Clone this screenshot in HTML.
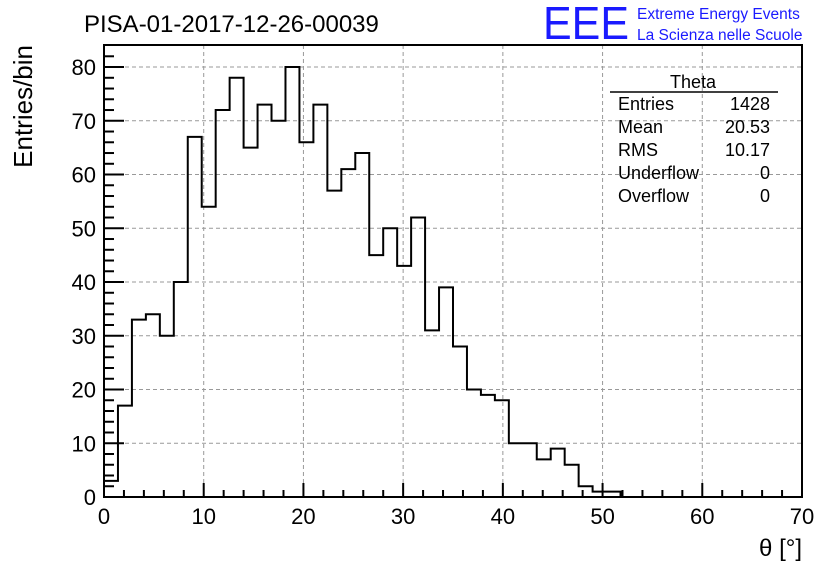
<!DOCTYPE html>
<html><head><meta charset="utf-8"><style>
body{margin:0;background:#fff;}
svg{display:block;font-family:"Liberation Sans",sans-serif;}
</style></head><body>
<svg id="c" width="836" height="572">
<rect width="836" height="572" fill="#fff"/>
<text x="84" y="32" font-size="24">PISA-01-2017-12-26-00039</text>
<text x="543" y="39" font-size="46" fill="#1a1aff" textLength="86" lengthAdjust="spacingAndGlyphs">EEE</text>
<text x="637" y="19" font-size="15.5" fill="#1a1aff">Extreme Energy Events</text>
<text x="637" y="40" font-size="15.5" fill="#1a1aff">La Scienza nelle Scuole</text>
<g id="grid"></g><g id="axes"></g>
<path id="hist" fill="none" stroke="#000" stroke-width="2"/>
<rect x="104" y="45" width="698" height="452" fill="none" stroke="#000" stroke-width="2"/>
<text x="32" y="45" font-size="26" transform="rotate(-90 32 45)" text-anchor="end">Entries/bin</text>
<text x="802" y="556" font-size="24" text-anchor="end">θ [°]</text>
<g font-size="18">
<text x="693" y="88" text-anchor="middle">Theta</text>
<line x1="610" y1="92" x2="778" y2="92" stroke="#000" stroke-width="1.5"/>
<text x="618" y="110">Entries</text><text x="770" y="110" text-anchor="end">1428</text>
<text x="618" y="133">Mean</text><text x="770" y="133" text-anchor="end">20.53</text>
<text x="618" y="156">RMS</text><text x="770" y="156" text-anchor="end">10.17</text>
<text x="618" y="179">Underflow</text><text x="770" y="179" text-anchor="end">0</text>
<text x="618" y="202">Overflow</text><text x="770" y="202" text-anchor="end">0</text>
</g>
</svg>
<script>
const counts=[3,17,33,34,30,40,67,54,72,78,65,73,70,80,66,73,57,61,64,45,50,43,52,31,39,28,20,19,18,10,10,7,9,6,2,1,1,0,0,0,0,0,0,0,0,0,0,0,0,0];
const binWidth=1.4;
const xTicks=[0,10,20,30,40,50,60,70];
const yTicks=[0,10,20,30,40,50,60,70,80];
const X0=104,X1=802,Y0=497,Y1=45,XMAX=70,YMAX=84.1;
const sx=v=>X0+v/XMAX*(X1-X0), sy=v=>Y0-v/YMAX*(Y0-Y1);
const NS="http://www.w3.org/2000/svg";
const grid=document.getElementById('grid'),axes=document.getElementById('axes');
function mk(tag,attrs,parent){const e=document.createElementNS(NS,tag);for(const k in attrs)e.setAttribute(k,attrs[k]);parent.appendChild(e);return e;}
xTicks.forEach(t=>{
 if(t>0&&t<70){const g=mk('line',{x1:sx(t),x2:sx(t),y1:Y1,y2:Y0,stroke:'#999','stroke-dasharray':'4,3'},grid);
 
 }
 const l=mk('line',{x1:sx(t),x2:sx(t),y1:Y0,y2:Y0-14,stroke:'#000','stroke-width':2},axes);
 
 
 const tx=mk('text',{x:sx(t),y:524,'font-size':22,'text-anchor':'middle'},axes);tx.textContent=t;
 
 
});
for(let t=2;t<70;t+=2){if(t%10)mk('line',{x1:sx(t),x2:sx(t),y1:Y0,y2:Y0-7,stroke:'#000','stroke-width':2},axes);}
yTicks.forEach(t=>{
 if(t>0){const g=mk('line',{x1:X0,x2:X1,y1:sy(t),y2:sy(t),stroke:'#999','stroke-dasharray':'4,3'},grid);
 
 }
 const l=mk('line',{x1:X0,x2:X0+20,y1:sy(t),y2:sy(t),stroke:'#000','stroke-width':2},axes);
 
 
 const tx=mk('text',{x:96,y:sy(t)+8,'font-size':22,'text-anchor':'end'},axes);tx.textContent=t;
 
 
});
for(let t=2;t<84;t+=2){if(t%10)mk('line',{x1:X0,x2:X0+10,y1:sy(t),y2:sy(t),stroke:'#000','stroke-width':2},axes);}
let last=0;while(last<counts.length&&counts.slice(last).some(v=>v>0))last++;
let d='M'+sx(0)+','+sy(0);
for(let i=0;i<last;i++){d+=' L'+sx(i*binWidth)+','+sy(counts[i])+' L'+sx((i+1)*binWidth)+','+sy(counts[i]);}
d+=' L'+sx(last*binWidth)+','+sy(0);
document.getElementById('hist').setAttribute('d',d);
</script>
</body></html>
